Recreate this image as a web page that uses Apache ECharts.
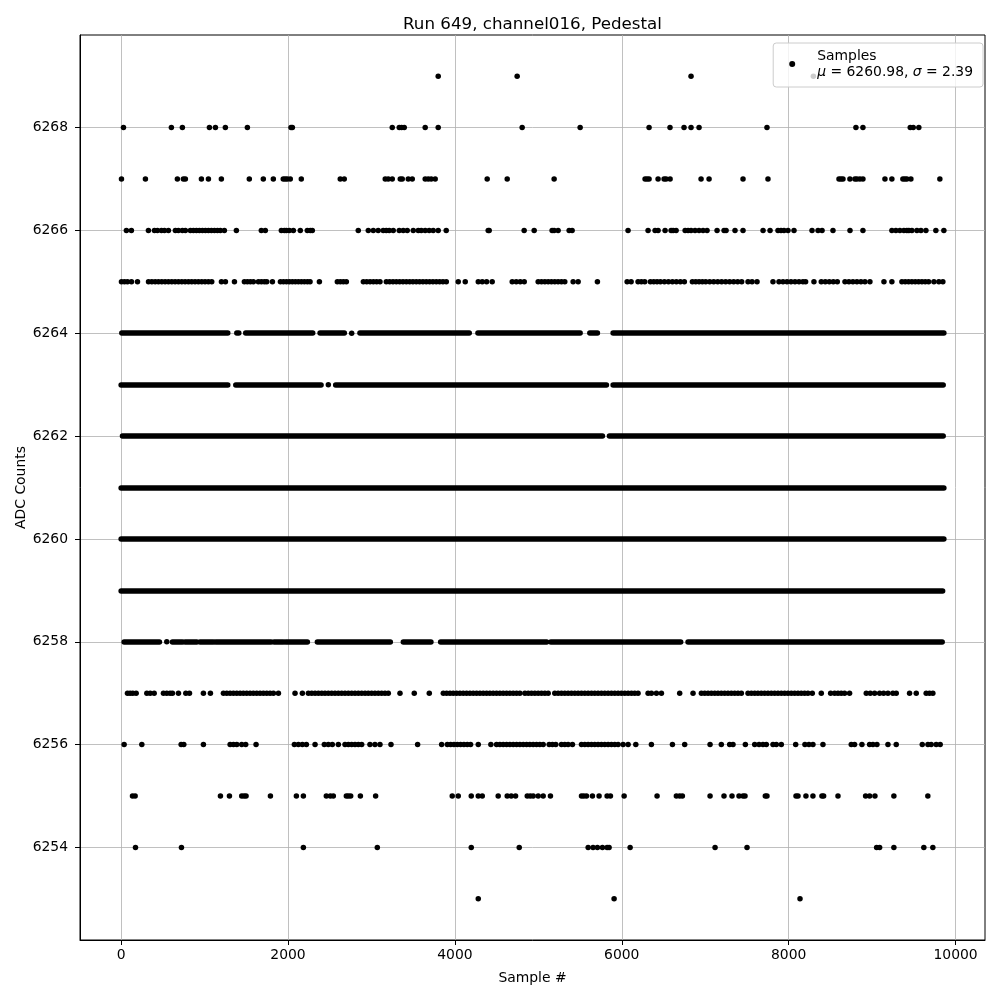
<!DOCTYPE html>
<html>
<head>
<meta charset="utf-8">
<script src="https://cdn.jsdelivr.net/npm/echarts@6/dist/echarts.min.js"></script>
<style>html,body{margin:0;padding:0;background:#fff}#c{width:1000px;height:1000px}</style>
</head>
<body>
<div id="c"></div>
<script>
// ---- data (sample index values per ADC level) ----
const xTicks = [0, 2000, 4000, 6000, 8000, 10000];
const yTicks = [6254, 6256, 6258, 6260, 6262, 6264, 6266, 6268];

const r6269 = [3800, 4746, 6830, 8296];
const r6268 = [28, 602, 734, 1058, 1130, 1249, 1513, 2036, 2052, 3249, 3333, 3361, 3393, 3644, 3800, 4806, 5501, 6327, 6578, 6746, 6830, 6926, 7740, 8806, 8890, 9457, 9493, 9560];
const r6267 = [4, 291, 674, 746, 770, 962, 1046, 1201, 1536, 1704, 1824, 1943, 1967, 1991, 2027, 2159, 2626, 2674, 3165, 3201, 3249, 3345, 3369, 3441, 3489, 3644, 3680, 3716, 3764, 4387, 4627, 5189, 6279, 6303, 6327, 6435, 6507, 6531, 6579, 6950, 7046, 7453, 7752, 8603, 8627, 8651, 8734, 8794, 8818, 8854, 8890, 9154, 9237, 9369, 9393, 9417, 9465, 9812];
const r6266 = [63, 123, 327, 399, 435, 483, 519, 567, 650, 686, 734, 770, 830, 866, 902, 938, 974, 1010, 1046, 1082, 1118, 1154, 1189, 1237, 1381, 1680, 1728, 1920, 1956, 1980, 2016, 2064, 2147, 2231, 2267, 2291, 2842, 2962, 3022, 3081, 3141, 3177, 3213, 3261, 3333, 3381, 3429, 3501, 3561, 3597, 3644, 3692, 3740, 3800, 3896, 4399, 4411, 4830, 4950, 5165, 5189, 5237, 5369, 5405, 6075, 6315, 6399, 6435, 6519, 6591, 6615, 6651, 6759, 6794, 6830, 6878, 6926, 6974, 7022, 7142, 7226, 7250, 7357, 7453, 7693, 7777, 7872, 7908, 7944, 7992, 8064, 8280, 8352, 8400, 8531, 8735, 8890, 9237, 9285, 9333, 9381, 9417, 9441, 9477, 9537, 9585, 9645, 9764, 9860];
const r6265 = [4, 40, 76, 124, 196, 328, 368, 408, 447, 487, 527, 567, 607, 647, 687, 727, 767, 807, 846, 886, 926, 966, 1006, 1046, 1086, 1202, 1250, 1358, 1477, 1513, 1549, 1585, 1645, 1681, 1717, 1745, 1813, 1909, 1945, 1981, 2016, 2052, 2088, 2124, 2160, 2196, 2232, 2264, 2376, 2591, 2627, 2663, 2699, 2903, 2943, 2983, 3023, 3062, 3102, 3178, 3218, 3258, 3298, 3338, 3378, 3418, 3458, 3497, 3537, 3577, 3617, 3657, 3697, 3737, 3777, 3817, 3857, 3897, 4040, 4124, 4280, 4328, 4380, 4447, 4687, 4735, 4783, 4831, 4998, 5038, 5078, 5118, 5157, 5197, 5237, 5277, 5317, 5417, 5477, 5708, 6064, 6112, 6195, 6235, 6275, 6343, 6383, 6423, 6463, 6511, 6559, 6607, 6654, 6702, 6750, 6846, 6886, 6926, 6966, 7006, 7054, 7102, 7150, 7197, 7245, 7293, 7341, 7389, 7437, 7513, 7561, 7621, 7812, 7884, 7932, 7980, 8028, 8076, 8124, 8171, 8203, 8303, 8391, 8439, 8487, 8535, 8583, 8675, 8722, 8770, 8818, 8866, 8914, 8974, 9142, 9237, 9357, 9397, 9437, 9477, 9517, 9557, 9597, 9637, 9677, 9741, 9800, 9848];
const r6264 = [2763];
const r6263 = [2483];
const r6258 = [547];
const r6257 = [76, 108, 140, 180, 308, 348, 396, 507, 547, 587, 615, 687, 775, 819, 986, 1070, 1226, 1266, 1306, 1346, 1386, 1426, 1465, 1505, 1545, 1585, 1625, 1665, 1705, 1745, 1785, 1825, 1885, 2084, 2172, 2244, 2284, 2324, 2364, 2404, 2443, 2483, 2523, 2563, 2603, 2643, 2683, 2723, 2763, 2803, 2843, 2883, 2923, 2962, 3002, 3042, 3082, 3122, 3162, 3202, 3342, 3513, 3693, 3861, 3901, 3941, 3980, 4020, 4060, 4100, 4140, 4180, 4220, 4260, 4300, 4340, 4380, 4419, 4459, 4499, 4539, 4579, 4619, 4659, 4699, 4739, 4779, 4839, 4879, 4918, 4958, 4998, 5038, 5078, 5118, 5197, 5237, 5277, 5317, 5357, 5397, 5437, 5477, 5517, 5557, 5597, 5637, 5676, 5716, 5756, 5796, 5836, 5876, 5916, 5956, 5996, 6036, 6076, 6116, 6155, 6195, 6315, 6355, 6415, 6475, 6694, 6854, 6954, 6994, 7034, 7074, 7114, 7153, 7193, 7233, 7273, 7313, 7353, 7393, 7433, 7513, 7553, 7593, 7632, 7672, 7712, 7752, 7792, 7832, 7872, 7912, 7952, 7992, 8032, 8072, 8112, 8151, 8191, 8231, 8283, 8391, 8503, 8551, 8591, 8630, 8670, 8730, 8930, 8978, 9030, 9090, 9138, 9190, 9249, 9289, 9449, 9529, 9648, 9688, 9728];
const r6256 = [36, 248, 719, 751, 986, 1306, 1346, 1386, 1445, 1493, 1617, 2076, 2124, 2172, 2220, 2324, 2435, 2483, 2531, 2603, 2683, 2723, 2763, 2803, 2843, 2883, 2982, 3042, 3102, 3234, 3553, 3841, 3909, 3949, 3989, 4029, 4068, 4108, 4148, 4188, 4280, 4431, 4499, 4539, 4579, 4619, 4659, 4699, 4739, 4779, 4819, 4859, 4898, 4938, 4978, 5018, 5058, 5130, 5169, 5209, 5277, 5317, 5357, 5409, 5517, 5557, 5597, 5637, 5676, 5716, 5756, 5796, 5836, 5876, 5916, 5956, 6016, 6076, 6168, 6355, 6607, 6754, 7058, 7193, 7293, 7333, 7481, 7593, 7645, 7692, 7732, 7812, 7852, 7912, 8084, 8195, 8243, 8291, 8411, 8750, 8790, 8878, 8970, 9010, 9058, 9190, 9289, 9601, 9669, 9708, 9768, 9816];
const r6255 = [136, 168, 1190, 1298, 1445, 1473, 1497, 1789, 2100, 2184, 2459, 2507, 2543, 2699, 2723, 2751, 2867, 3050, 3968, 4040, 4196, 4280, 4328, 4519, 4627, 4675, 4727, 4867, 4903, 4938, 4998, 5058, 5145, 5517, 5545, 5577, 5648, 5728, 5824, 5864, 6028, 6423, 6654, 6694, 6726, 7058, 7225, 7321, 7405, 7453, 7477, 7720, 7740, 8088, 8112, 8207, 8291, 8399, 8419, 8591, 8922, 8970, 9034, 9261, 9668];
const r6254 = [172, 723, 2184, 3070, 4196, 4771, 5597, 5656, 5708, 5768, 5824, 5848, 6100, 7118, 7501, 9054, 9090, 9261, 9620, 9728];
const r6253 = [4280, 5908, 8136];

// dense levels: runs of consecutive samples [first, last] where markers merge into a band
const d6264 = [[8, 1278], [1386, 1410], [1493, 2296], [2384, 2675], [2862, 4172], [4276, 5501], [5617, 5708], [5896, 9860]];
const d6263 = [[0, 1278], [1374, 2396], [2571, 5816], [5896, 9852]];
const d6262 = [[16, 5768], [5852, 9852]];
const d6261 = [[0, 9860]];
const d6260 = [[0, 9860]];
const d6259 = [[0, 9845]];
const d6258 = [[36, 459], [615, 735], [767, 907], [946, 1106], [1134, 1797], [1833, 1945], [1973, 2232], [2352, 3226], [3382, 3713], [3829, 5100], [5150, 6706], [6794, 9840]];

// ---- build ----
const sparseRows = [[6269, r6269], [6268, r6268], [6267, r6267], [6266, r6266], [6265, r6265], [6264, r6264], [6263, r6263], [6258, r6258], [6257, r6257], [6256, r6256], [6255, r6255], [6254, r6254], [6253, r6253]];
const denseRows = [[6264, d6264], [6263, d6263], [6262, d6262], [6261, d6261], [6260, d6260], [6259, d6259], [6258, d6258]];

const scatterData = [];
sparseRows.forEach(([lvl, arr]) => arr.forEach(s => scatterData.push([s, lvl])));
const runData = [];
denseRows.forEach(([lvl, arr]) => arr.forEach(([a, b]) => runData.push({ coords: [[a, lvl], [b, lvl]] })));

const FONT = 'DejaVu Sans';
const plain = v => String(Math.round(v));
const chart = echarts.init(document.getElementById('c'), null, { renderer: 'canvas' });
chart.setOption({
  animation: false,
  backgroundColor: '#fff',
  title: {
    text: 'Run 649, channel016, Pedestal',
    left: 398, top: 11,
    textStyle: { fontFamily: FONT, fontSize: 16.7, fontWeight: 'normal', color: '#000' }
  },
  grid: { left: 80, right: 15, top: 35, bottom: 60, outerBoundsMode: 'none', containLabel: false,
          show: true, borderColor: '#000', borderWidth: 1, backgroundColor: 'transparent' },
  legend: {
    data: ['Samples'],
    right: 17, top: 43,
    orient: 'vertical',
    backgroundColor: 'rgba(255,255,255,0.8)',
    borderColor: '#cccccc', borderWidth: 1, borderRadius: 3,
    padding: [5, 10, 7, 16],
    itemWidth: 6, itemHeight: 6,
    formatter: () => 'Samples\n{i|μ} = 6260.98, {i|σ} = 2.39',
    textStyle: {
      fontFamily: FONT, fontSize: 13.9, color: '#000', lineHeight: 16, padding: [0, 0, 0, 17],
      rich: { i: { fontFamily: FONT, fontStyle: 'italic', fontSize: 13.9, color: '#000', lineHeight: 16 } }
    }
  },
  xAxis: {
    type: 'value', min: -493, max: 10353,
    name: 'Sample #', nameLocation: 'middle', nameGap: 31, nameMoveOverlap: false,
    nameTextStyle: { fontFamily: FONT, fontSize: 13.9, color: '#000' },
    axisLine: { show: true, onZero: false, lineStyle: { color: '#000', width: 1 } },
    axisTick: { show: true, customValues: xTicks, length: 5, lineStyle: { color: '#000', width: 1 } },
    axisLabel: { customValues: xTicks, formatter: plain, margin: 8, fontFamily: FONT, fontSize: 13.9, color: '#000' },
    splitLine: { show: true, lineStyle: { color: '#b0b0b0', width: 0.8 } }
  },
  yAxis: {
    type: 'value', min: 6252.2, max: 6269.8,
    name: 'ADC Counts', nameLocation: 'middle', nameGap: 52, nameRotate: 90, nameMoveOverlap: false,
    nameTextStyle: { fontFamily: FONT, fontSize: 13.9, color: '#000' },
    axisLine: { show: true, onZero: false, lineStyle: { color: '#000', width: 1 } },
    axisTick: { show: true, customValues: yTicks, length: 5, lineStyle: { color: '#000', width: 1 } },
    axisLabel: { customValues: yTicks, formatter: plain, margin: 12, fontFamily: FONT, fontSize: 13.9, color: '#000' },
    splitLine: { show: true, lineStyle: { color: '#b0b0b0', width: 0.8 } }
  },
  series: [
    {
      name: 'Samples', type: 'scatter', data: scatterData,
      symbol: 'circle', symbolSize: 5.5,
      itemStyle: { color: '#000', opacity: 1 }, z: 3
    },
    {
      name: 'runs', type: 'lines', coordinateSystem: 'cartesian2d', data: runData,
      lineStyle: { color: '#000', width: 5.5, cap: 'round', opacity: 1 }, z: 3, silent: true
    }
  ]
});
</script>
</body>
</html>
